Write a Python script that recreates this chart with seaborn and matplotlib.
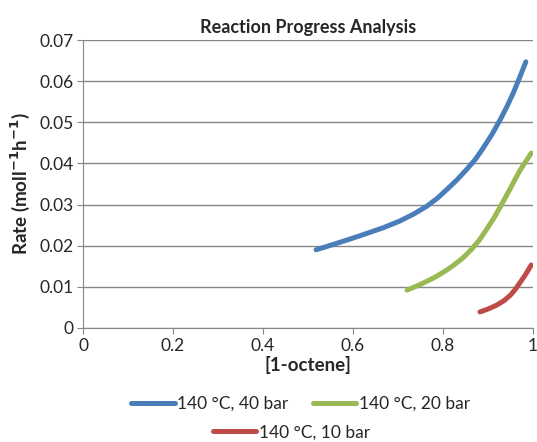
import pandas as pd
import numpy as np
import matplotlib
matplotlib.use('Agg')
import matplotlib.pyplot as plt
import seaborn as sns

# valores
x_40bar = [0.518, 0.556, 0.593, 0.631, 0.668, 0.704, 0.735, 0.764, 0.787, 0.808,
           0.831, 0.853, 0.872, 0.889, 0.909, 0.927, 0.942, 0.956, 0.970, 0.984]
y_40bar = [0.0190, 0.0203, 0.0216, 0.0230, 0.0244, 0.0260, 0.0277, 0.0296, 0.0315, 0.0336,
           0.0360, 0.0386, 0.0410, 0.0437, 0.0471, 0.0506, 0.0538, 0.0571, 0.0608, 0.0647]

x_20bar = [0.720, 0.750, 0.778, 0.800, 0.822, 0.845, 0.864, 0.881, 0.897,
           0.913, 0.927, 0.938, 0.949, 0.960, 0.971, 0.984, 0.996]
y_20bar = [0.0092, 0.0106, 0.0121, 0.0135, 0.0151, 0.0171, 0.0192, 0.0214, 0.0240,
           0.0267, 0.0294, 0.0316, 0.0338, 0.0361, 0.0383, 0.0405, 0.0425]

x_10bar = [0.882, 0.900, 0.920, 0.935, 0.949, 0.960, 0.971, 0.984, 0.996]
y_10bar = [0.0039, 0.0046, 0.0056, 0.0066, 0.0079, 0.0093, 0.0110, 0.0131, 0.0153]

series = ['140 °C, 40 bar', '140 °C, 20 bar', '140 °C, 10 bar']
cores = ['#4A7EBB', '#98B954', '#BE4B48']

df = pd.concat([
    pd.DataFrame({'x': x_40bar, 'y': y_40bar, 's': series[0]}),
    pd.DataFrame({'x': x_20bar, 'y': y_20bar, 's': series[1]}),
    pd.DataFrame({'x': x_10bar, 'y': y_10bar, 's': series[2]}),
])

sns.set_style('white')
plt.rcParams['font.family'] = ['Lato', 'DejaVu Sans']

fig = plt.figure(figsize=(5.37, 4.42), dpi=100)
ax = fig.add_axes([0.1546, 0.258, 0.838, 0.6515])

sns.lineplot(data=df, x='x', y='y', hue='s', palette=cores, sort=False,
             linewidth=3.6, ax=ax, legend=False)
for linha in ax.lines:
    linha.set_solid_capstyle('round')
    linha.set_solid_joinstyle('round')

ax.set_xlim(0, 1)
ax.set_ylim(0, 0.07)
ax.set_xticks(np.arange(0, 1.01, 0.2))
ax.set_xticklabels(['0', '0.2', '0.4', '0.6', '0.8', '1'])
ax.set_yticks(np.arange(0, 0.0701, 0.01))
ax.set_yticklabels(['0', '0.01', '0.02', '0.03', '0.04', '0.05', '0.06', '0.07'])
ax.tick_params(labelsize=12.5, length=4, color='#868686', direction='out', left=True, bottom=True, pad=3)
ax.grid(axis='y', color='#868686', linewidth=1)
ax.set_axisbelow(True)
for lado in ['top', 'right']:
    ax.spines[lado].set_visible(False)
for lado in ['left', 'bottom']:
    ax.spines[lado].set_color('#868686')

ax.set_title('Reaction Progress Analysis', fontsize=13, fontweight='bold', pad=5)
ax.set_xlabel('[1-octene]', fontsize=13.5, fontweight='bold', labelpad=2)
ax.set_ylabel('Rate (moll$^{\\mathbf{-1}}$h$^{\\mathbf{-1}}$)', fontsize=13.5, fontweight='bold', labelpad=5)

handles = [plt.Line2D([], [], color=c, linewidth=3.6) for c in cores]
leg1 = fig.legend(handles[:2], series[:2], loc='center', bbox_to_anchor=(0.56, 0.086),
                  ncol=2, frameon=False, fontsize=12.5, handlelength=2.5,
                  handletextpad=0.15, columnspacing=1.4)
leg2 = fig.legend(handles[2:], series[2:], loc='center', bbox_to_anchor=(0.543, 0.022),
                  ncol=1, frameon=False, fontsize=12.5, handlelength=2.5, handletextpad=0.15)

fig.savefig('out.png', dpi=100)
